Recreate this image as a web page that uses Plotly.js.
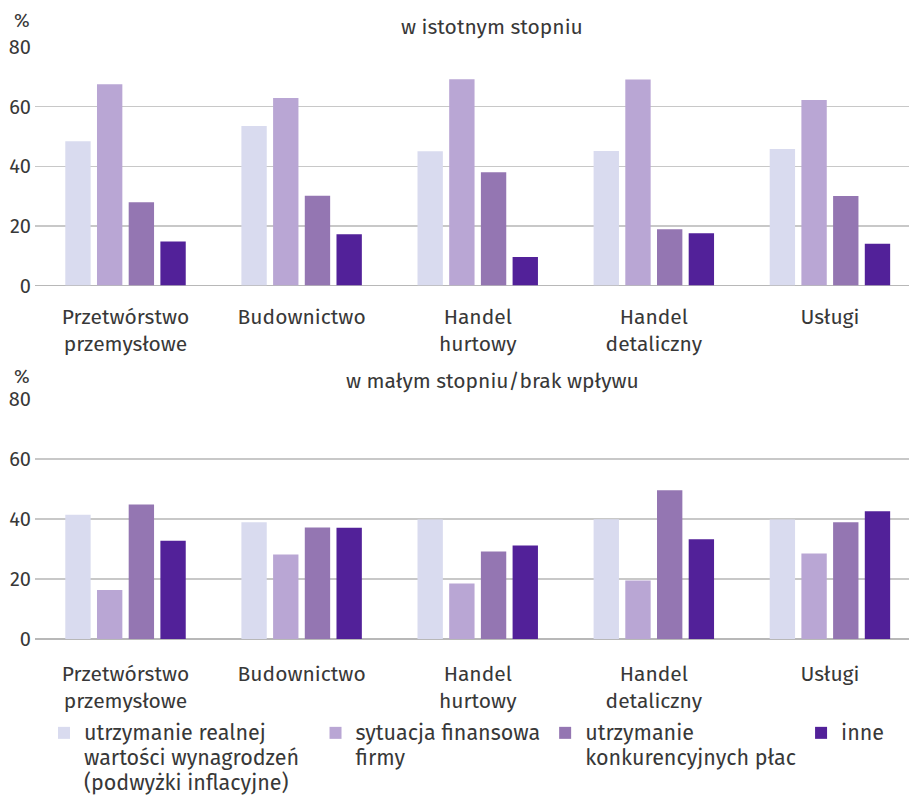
<!DOCTYPE html>
<html>
<head>
<meta charset="utf-8">
<script src="https://cdn.plot.ly/plotly-3.0.1.min.js"></script>
<style>html,body{margin:0;padding:0;background:#fff;}#chart{width:909px;height:805px;}</style>
</head>
<body>
<div id="chart"></div>
<script>
// Data
const categories = ["Przetwórstwo<br>przemysłowe", "Budownictwo", "Handel<br>hurtowy", "Handel<br>detaliczny", "Usługi"];
const seriesNames = [
  ["utrzymanie realnej", "wartości wynagrodzeń&nbsp;&nbsp;", "(podwyżki inflacyjne)"],
  ["sytuacja finansowa", "firmy"],
  ["utrzymanie", "konkurencyjnych płac"],
  ["inne"]
];
const seriesColors = ["#d9dbef", "#b9a6d4", "#9476b2", "#522199"];
// w istotnym stopniu
const topRealWage   = [48.4, 53.5, 45.0, 45.1, 45.8];
const topFinance    = [67.5, 62.9, 69.2, 69.1, 62.2];
const topCompetitive= [27.9, 30.1, 38.0, 18.9, 30.0];
const topOther      = [14.8, 17.2, 9.6, 17.5, 14.0];
// w małym stopniu / brak wpływu
const botRealWage   = [41.4, 38.9, 39.8, 39.9, 39.8];
const botFinance    = [16.3, 28.1, 18.5, 19.5, 28.5];
const botCompetitive= [44.8, 37.1, 29.1, 49.5, 38.9];
const botOther      = [32.7, 37.0, 31.1, 33.2, 42.5];
const yTicks = [0, 20, 40, 60, 80];
const topTitle = "w istotnym stopniu";
const botTitle = "w małym stopniu/brak wpływu";
const unitLabel = "%";

const topSeries = [topRealWage, topFinance, topCompetitive, topOther];
const botSeries = [botRealWage, botFinance, botCompetitive, botOther];

const mainFont = "Fira Sans, Open Sans, Noto Sans, sans-serif";
const textColor = "#383838";
const H = 805;

function legendName(lines) {
  return lines.map(l => '<span style="font-size:21.5px">' + l + '</span>').join("<br>");
}

const traces = [];
topSeries.forEach((vals, i) => {
  traces.push({
    type: "bar", x: categories, y: vals, name: legendName(seriesNames[i]),
    marker: {color: seriesColors[i], line: {width: 0}},
    xaxis: "x", yaxis: "y", legendgroup: "g" + i, showlegend: true,
    hoverinfo: "y"
  });
});
botSeries.forEach((vals, i) => {
  traces.push({
    type: "bar", x: categories, y: vals, name: legendName(seriesNames[i]),
    marker: {color: seriesColors[i], line: {width: 0}},
    xaxis: "x2", yaxis: "y2", legendgroup: "g" + i, showlegend: false,
    hoverinfo: "y"
  });
});

const xRange = [-0.514, 4.449];
const yAxisBase = {
  range: [0, 80], tickvals: yTicks, ticktext: yTicks.map(String),
  showgrid: true, gridcolor: "#c8c8c8", gridwidth: 1.5,
  zeroline: true, zerolinecolor: "#b8b8b8", zerolinewidth: 1.5,
  showline: false, ticks: "", ticklabelstandoff: 3,
  tickfont: {family: mainFont, size: 20, color: textColor},
  fixedrange: true
};
const xAxisBase = {
  type: "category", range: xRange, showgrid: false, zeroline: false,
  showline: false, ticks: "",
  tickfont: {family: mainFont, size: 21, color: textColor},
  fixedrange: true
};

const layout = {
  width: 909, height: H,
  margin: {l: 35, r: 0, t: 0, b: 0},
  paper_bgcolor: "#ffffff", plot_bgcolor: "#ffffff",
  barmode: "group", bargap: 0.28, bargroupgap: 0.2,
  font: {family: mainFont, color: textColor},
  xaxis: Object.assign({}, xAxisBase, {domain: [0, 1], anchor: "y", ticklabelstandoff: 16}),
  yaxis: Object.assign({}, yAxisBase, {domain: [1 - 285.5/H, 1 - 47/H], anchor: "x"}),
  xaxis2: Object.assign({}, xAxisBase, {domain: [0, 1], anchor: "y2", ticklabelstandoff: 20}),
  yaxis2: Object.assign({}, yAxisBase, {domain: [1 - 639/H, 1 - 398.7/H], anchor: "x2"}),
  showlegend: true,
  legend: {
    orientation: "h", x: 0.0103, xanchor: "left", y: 1 - 714/H, yanchor: "top",
    valign: "top", itemclick: false, itemdoubleclick: false,
    font: {family: mainFont, size: 19, color: textColor},
    traceorder: "normal", itemwidth: 30
  },
  annotations: [
    {text: topTitle, xref: "paper", yref: "paper", x: 0.523, y: 1 - 27/H,
     xanchor: "center", yanchor: "middle", showarrow: false,
     font: {family: mainFont, size: 21, color: textColor}},
    {text: botTitle, xref: "paper", yref: "paper", x: 0.523, y: 1 - 381/H,
     xanchor: "center", yanchor: "middle", showarrow: false,
     font: {family: mainFont, size: 21, color: textColor}},
    {text: unitLabel, xref: "paper", yref: "paper", x: -0.015, y: 1 - 20/H,
     xanchor: "center", yanchor: "middle", showarrow: false,
     font: {family: mainFont, size: 19, color: textColor}},
    {text: unitLabel, xref: "paper", yref: "paper", x: -0.015, y: 1 - 377/H,
     xanchor: "center", yanchor: "middle", showarrow: false,
     font: {family: mainFont, size: 19, color: textColor}}
  ]
};

Plotly.newPlot("chart", traces, layout, {displayModeBar: false, staticPlot: true});
</script>
</body>
</html>
